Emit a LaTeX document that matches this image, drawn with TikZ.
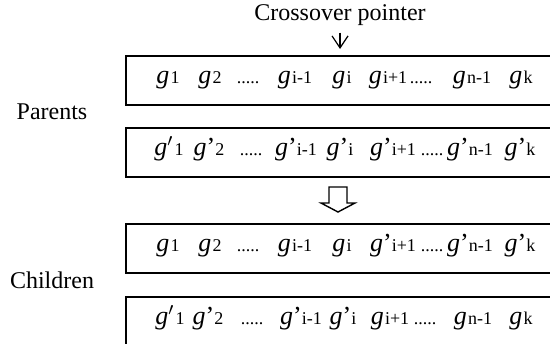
\documentclass[tikz,border=0pt]{standalone}
\usepackage{fontspec}
\setmainfont{Liberation Serif}
\usetikzlibrary{positioning,arrows.meta}

\tikzstyle{chrom}=[rectangle, draw=black, line width=0.9pt, anchor=north west,
 minimum width=217.5pt, minimum height=24.5pt, inner sep=0pt]
\tikzstyle{gene}=[anchor=base, inner sep=0pt, font=\fontsize{12}{12}\selectfont]
\tikzstyle{lbl}=[font=\fontsize{12}{14}\selectfont]
\tikzstyle{pline}=[-{Straight Barb[length=6pt,width=8pt]}, line width=0.6pt, shorten >=3pt]
\tikzstyle{hline}=[draw=black, line width=0.7pt, fill=white]

% genes: plain, primed, and the dots between them
\newcommand{\gn}[1]{{\fontsize{13}{13}\selectfont\textit{g}}\kern0.6pt{\fontsize{9}{9}\selectfont #1}}
\newcommand{\gp}[1]{{\fontsize{13}{13}\selectfont\textit{g}\textquoteright}{\fontsize{9}{9}\selectfont #1}}
\newcommand{\gq}[1]{{\fontsize{13}{13}\selectfont\textit{g}$'$}\kern0.6pt{\fontsize{9}{9}\selectfont #1}}
\newcommand{\dd}{{\fontsize{9}{9}\selectfont .....}}

\begin{document}
\begin{tikzpicture}[x=0.5pt,y=-0.5pt]
    \useasboundingbox (0,0) rectangle (550,343);

    \node (ptr) [lbl] at (340,15) {Crossover pointer};

% chromosomes
    \node (pa) [chrom] at (125,55)  {};
    \node (pb) [chrom] at (125,127) {};
    \node (ca) [chrom] at (125,223) {};
    \node (cb) [chrom] at (125,296) {};

    \node (par) [lbl] at (52,112) {Parents};
    \node (chi) [lbl] at (52,280) {Children};

% genes
    \foreach \x/\t [count=\n] in {168/{\gn{1}}, 210/{\gn{2}}, 248/\dd, 295/{\gn{i-1}},
        342/{\gn{i}}, 388/{\gn{i+1}}, 421/\dd, 472/{\gn{n-1}}, 521/{\gn{k}}}
        \node (pa\n) [gene] at (\x,83) {\t};

    \foreach \x/\t [count=\n] in {169/{\gq{1}}, 209/{\gp{2}}, 251/\dd, 296/{\gp{i-1}},
        340/{\gp{i}}, 393/{\gp{i+1}}, 432/\dd, 470/{\gp{n-1}}, 520/{\gp{k}}}
        \node (pb\n) [gene] at (\x,155) {\t};

    \foreach \x/\t [count=\n] in {168/{\gn{1}}, 210/{\gn{2}}, 248/\dd, 295/{\gn{i-1}},
        342/{\gn{i}}, 393/{\gp{i+1}}, 432/\dd, 470/{\gp{n-1}}, 520/{\gp{k}}}
        \node (ca\n) [gene] at (\x,251) {\t};

    \foreach \x/\t [count=\n] in {170/{\gq{1}}, 208/{\gp{2}}, 252/\dd, 301/{\gp{i-1}},
        343/{\gp{i}}, 390/{\gn{i+1}}, 425/\dd, 473/{\gn{n-1}}, 521/{\gn{k}}}
        \node (cb\n) [gene] at (\x,324) {\t};

% arrows
   \draw[pline] (ptr.south) -- (ptr.south |- pa.north);
   \draw[hline] (329,187) -- (329,203) -- (321,203) -- (338,212)
        -- (355,203) -- (347,203) -- (347,187) -- cycle;
\end{tikzpicture}
\end{document}
